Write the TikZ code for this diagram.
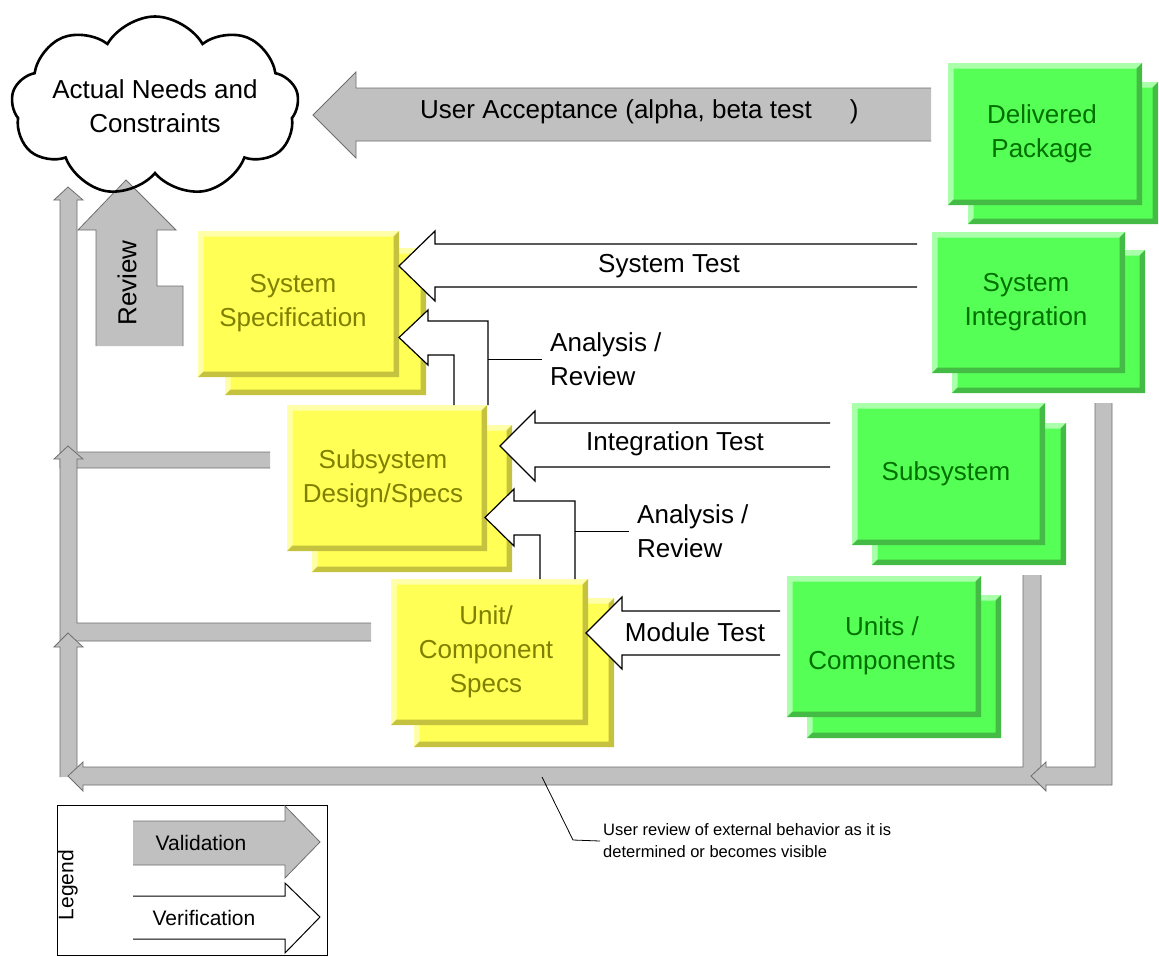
\documentclass[tikz,border=0pt]{standalone}
\usepackage{fontspec}
\setmainfont{Liberation Sans}
\usetikzlibrary{shapes.symbols}
\definecolor{yfill}{HTML}{FFFF55}
\definecolor{ylight}{HTML}{FFFFAA}
\definecolor{ydark}{HTML}{C4C23E}
\definecolor{ytext}{HTML}{808000}
\definecolor{gfill}{HTML}{55FF55}
\definecolor{glight}{HTML}{AAFFAA}
\definecolor{gdark}{HTML}{44BB44}
\definecolor{gtext}{HTML}{007000}
\definecolor{vgray}{HTML}{C0C0C0}
\definecolor{vedge}{HTML}{6E6E6E}
\newcommand{\bevbox}[5]{%
  \fill[#5fill] (#1,#2) rectangle (#3,#4);
  \fill[#5light] (#1,#2) -- (#3,#2) -- (#3-5.5,#2+5.5) -- (#1+5.5,#2+5.5) -- (#1+5.5,#4-5.5) -- (#1,#4) -- cycle;
  \fill[#5dark] (#3,#2) -- (#3,#4) -- (#1,#4) -- (#1+5.5,#4-5.5) -- (#3-5.5,#4-5.5) -- (#3-5.5,#2+5.5) -- cycle;
}
\newcommand{\gshape}[1]{\fill[vgray] #1 -- cycle; \draw[validedge] #1;}
\tikzset{
  lab/.style={font=\fontsize{26}{34}\selectfont, align=center, inner sep=0pt},
  ylab/.style={lab, text=ytext},
  glab/.style={lab, text=gtext},
  validedge/.style={draw=vedge, line width=0.8pt},
  verif/.style={draw=black, line width=1.2pt, fill=white},
  leader/.style={draw=black, line width=1.1pt},
  smalltxt/.style={font=\fontsize{21}{25}\selectfont, inner sep=0pt},
}
\begin{document}
\begin{tikzpicture}[x=1pt,y=-1pt]
\useasboundingbox (0,0) rectangle (1159,956);

% ---- validation (gray) arrows ----
\gshape{(931,141) -- (356,141) -- (356,158) -- (313,115) -- (356,72) -- (356,88) -- (931,88)}
\gshape{(270,452) -- (77,452) -- (77,200) -- (83,200) -- (68,187) -- (54,200) -- (60,200) -- (60,468) -- (270,468)}
\gshape{(371,623) -- (77,623) -- (77,459) -- (83,459) -- (68,446) -- (54,459) -- (60,459) -- (60,641) -- (371,641)}
\gshape{(77,777) -- (77,647) -- (83,647) -- (68,633) -- (54,647) -- (60,647) -- (60,777)}
\gshape{(1023,575) -- (1023,767) -- (83,767) -- (83,762) -- (68,776) -- (83,791) -- (83,785) -- (1041,785) -- (1041,575)}
\gshape{(1095,403) -- (1095,767) -- (1046,767) -- (1046,762) -- (1031,776) -- (1046,791) -- (1046,785) -- (1112,785) -- (1112,403)}
\gshape{(96,346) -- (96,230) -- (78,230) -- (126,180) -- (176,230) -- (157,230) -- (157,286) -- (183,286) -- (183,346)}

% ---- boxes ----
\bevbox{225}{248}{426}{395}{y}
\bevbox{198}{231}{399}{377}{y}
\bevbox{312}{425}{512}{572}{y}
\bevbox{287}{405}{487}{551}{y}
\bevbox{414}{598}{614}{747}{y}
\bevbox{391}{579}{588}{725}{y}

\bevbox{968}{82}{1158}{224}{g}
\bevbox{948}{63}{1142}{205}{g}
\bevbox{952}{250}{1145}{393}{g}
\bevbox{932}{232}{1125}{373}{g}
\bevbox{872}{423}{1066}{565}{g}
\bevbox{852}{403}{1045}{545}{g}
\bevbox{807}{595}{1001}{738}{g}
\bevbox{787}{576}{981}{717}{g}

\node[ylab] (sysspec) at (293,303) {System\\Specification};
\node[ylab] (subspec) at (383,479) {Subsystem\\Design/Specs};
\node[ylab] (unitspec) at (486,652) {Unit/\\Component\\Specs};
\node[glab] (delivered) at (1042,134) {Delivered\\Package};
\node[glab] (sysint) at (1026,302) {System\\Integration};
\node[glab] (subsys) at (946,474) {Subsystem};
\node[glab] (units) at (882,646) {Units /\\Components};

% ---- verification (white) arrows ----
\filldraw[verif] (917,244) -- (435,244) -- (435,231) -- (399,266) -- (435,301) -- (435,287) -- (917,287);
\filldraw[verif] (830,423) -- (535,423) -- (535,411) -- (500,446) -- (535,481) -- (535,467) -- (830,467);
\filldraw[verif] (780,611) -- (622,611) -- (622,597) -- (586,633) -- (622,669) -- (622,655) -- (780,655);
\filldraw[verif] (454,405) -- (454,355) -- (428,355) -- (428,365) -- (399,337.5) -- (428,310) -- (428,321) -- (488,321) -- (488,405);
\filldraw[verif] (540,579) -- (540,535) -- (514,535) -- (514,546) -- (485,517.5) -- (514,489) -- (514,501) -- (575,501) -- (575,579);

% ---- labels ----
\node[font=\fontsize{26}{30}\selectfont, inner sep=0pt, anchor=base west] (ua) at (420,118.5) {User Acceptance (alpha, beta test\hspace{38pt})};
\node[lab, rotate=90] (review) at (127,283) {Review};
\node[lab] (systest) at (669,266) {System Test};
\node[lab] (inttest) at (675,444) {Integration Test};
\node[lab] (modtest) at (695,632) {Module Test};
\node[lab, align=left, anchor=west] (ar1) at (550,359.5) {Analysis /\\Review};
\node[lab, align=left, anchor=west] (ar2) at (637,531.5) {Analysis /\\Review};
\draw[leader] (488,359.5) -- ([xshift=-8pt]ar1.west);
\draw[leader] (575,531.5) -- ([xshift=-8pt]ar2.west);

\node[font=\fontsize{16.5}{22}\selectfont, align=left, anchor=west, inner sep=0pt] (ur) at (603,841) {User review of external behavior as it is\\determined or becomes visible};
\coordinate (urbar) at (542,777);
\draw[black, line width=0.8pt] (urbar) -- (573,840) -- ([xshift=-3pt]ur.west);

% ---- cloud ----
\node[cloud, cloud puffs=9, cloud puff arc=120, cloud ignores aspect, draw, line width=2.6pt,
      minimum width=270pt, minimum height=180pt, lab] (needs) at (155,106.5) {Actual Needs and\\Constraints};

% ---- legend ----
\draw[black, line width=1pt] (57,805) rectangle (327,955);
\node[smalltxt, rotate=90] (legend) at (68,885) {Legend};
\gshape{(133,821) -- (285,821) -- (285,806) -- (320,842) -- (285,878) -- (285,865) -- (133,865)}
\filldraw[draw=black, line width=1pt, fill=white] (133,896) -- (285,896) -- (285,883) -- (320,917) -- (285,953) -- (285,939) -- (133,939);
\node[smalltxt] (valid) at (201,843) {Validation};
\node[smalltxt] (verif) at (204,918) {Verification};
\end{tikzpicture}
\end{document}
